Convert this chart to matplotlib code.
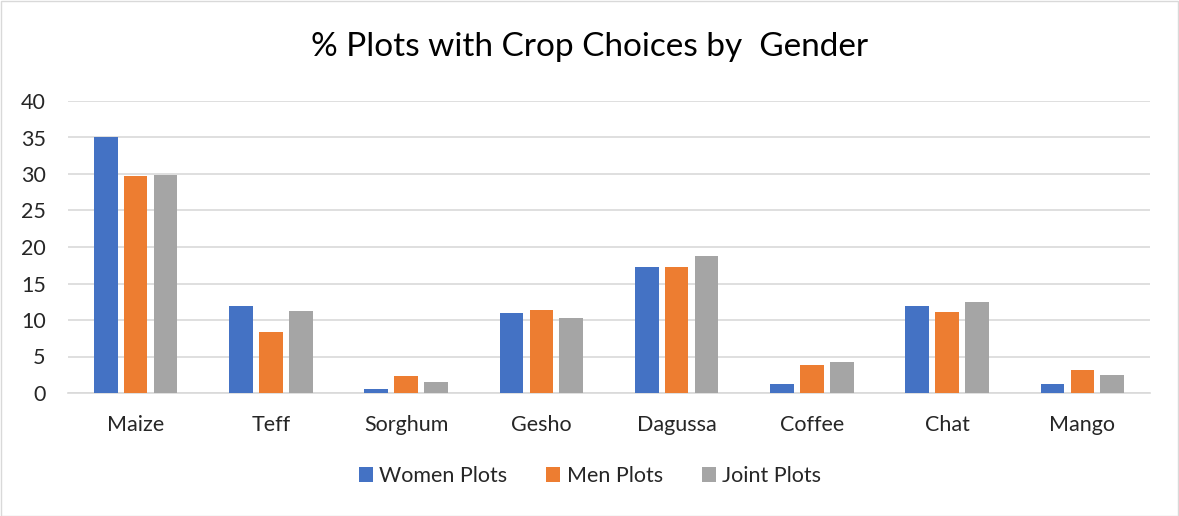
import matplotlib
matplotlib.use("Agg")
import matplotlib.pyplot as plt
import numpy as np
from matplotlib.patches import Rectangle

categories = ["Maize", "Teff", "Sorghum", "Gesho", "Dagussa", "Coffee", "Chat", "Mango"]
women = [35.1, 11.9, 0.6, 10.9, 17.2, 1.3, 11.9, 1.3]
men = [29.7, 8.4, 2.3, 11.4, 17.2, 3.8, 11.1, 3.1]
joint = [29.9, 11.3, 1.55, 10.3, 18.7, 4.25, 12.4, 2.4]
series_names = ["Women Plots", "Men Plots", "Joint Plots"]
colors = ["#4472C4", "#ED7D31", "#A5A5A5"]
yticks = [0, 5, 10, 15, 20, 25, 30, 35, 40]

plt.rcParams['font.family'] = ['Lato', 'DejaVu Sans']

W, H = 1179, 516
fig = plt.figure(figsize=(W / 100, H / 100), dpi=100)
ax = fig.add_axes([68 / W, 1 - 393 / H, (1150 - 68) / W, (393 - 101) / H])

x = np.arange(len(categories))
bw = 0.175
step = 0.221
for i, (vals, name, c) in enumerate(zip([women, men, joint], series_names, colors)):
    ax.bar(x + (i - 1) * step, vals, width=bw, color=c, label=name, zorder=3)

ax.set_xlim(-0.5, len(categories) - 0.5)
ax.set_ylim(0, 40)
ax.set_yticks(yticks)
ax.set_yticklabels([str(t) for t in yticks], fontsize=15.5, color="#262626")
ax.set_xticks(x)
ax.set_xticklabels(categories, fontsize=15.5, color="#262626")
ax.tick_params(axis='both', length=0)
ax.tick_params(axis='y', pad=16)
ax.tick_params(axis='x', pad=16)
ax.grid(axis='y', color="#D9D9D9", linewidth=1.2, zorder=0)
for s in ["top", "right", "left"]:
    ax.spines[s].set_visible(False)
ax.spines["bottom"].set_color("#D9D9D9")
ax.spines["bottom"].set_linewidth(1.2)

fig.text(590 / W, 1 - 47 / H, "% Plots with Crop Choices by  Gender",
         ha="center", va="center", fontsize=24, color="#000000")

leg = fig.legend(loc="center", bbox_to_anchor=(590 / W, 1 - 476 / H), ncol=3,
                 frameon=False, fontsize=15.5, handlelength=0.65, handleheight=0.65,
                 handletextpad=0.3, columnspacing=1.8)
for t in leg.get_texts():
    t.set_color("#262626")

fig.patches.append(Rectangle((0.5 / W, 0.5 / H), 1 - 1.5 / W, 1 - 1.5 / H,
                             transform=fig.transFigure, fill=False,
                             edgecolor="#D9D9D9", linewidth=1))

fig.savefig("out.png", dpi=100)
